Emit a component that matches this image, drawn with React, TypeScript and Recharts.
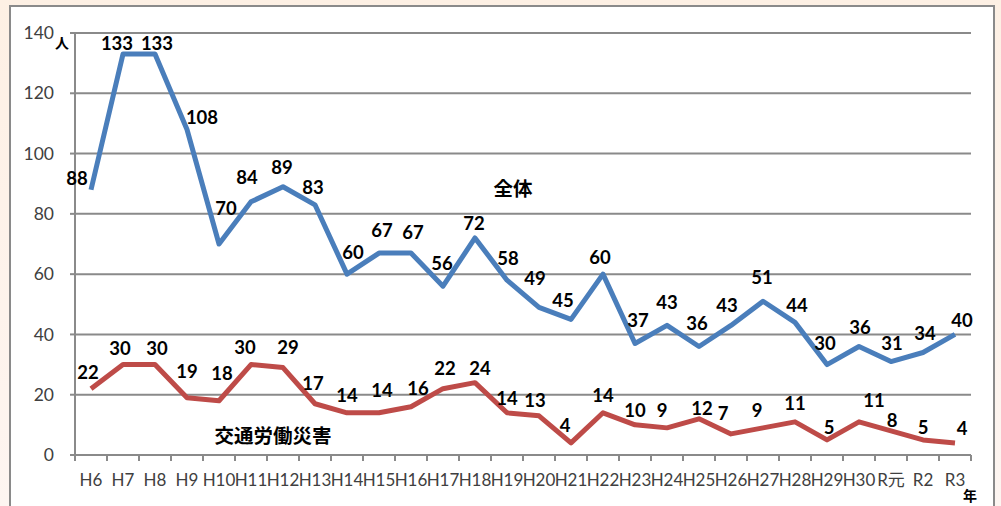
import React from "react";
import { CartesianGrid, LabelList, Line, LineChart, XAxis, YAxis } from "recharts";

const years = [
  "H6", "H7", "H8", "H9", "H10", "H11", "H12", "H13", "H14", "H15",
  "H16", "H17", "H18", "H19", "H20", "H21", "H22", "H23", "H24", "H25",
  "H26", "H27", "H28", "H29", "H30", "R元", "R2", "R3"
];
const totalDeaths = [
  88, 133, 133, 108, 70, 84, 89, 83, 60, 67,
  67, 56, 72, 58, 49, 45, 60, 37, 43, 36,
  43, 51, 44, 30, 36, 31, 34, 40
];
const trafficDeaths = [
  22, 30, 30, 19, 18, 30, 29, 17, 14, 14,
  16, 22, 24, 14, 13, 4, 14, 10, 9, 12,
  7, 9, 11, 5, 11, 8, 5, 4
];
const yTicks = [0, 20, 40, 60, 80, 100, 120, 140];

// label nudges (dx, dy from the point), Excel placed them a bit unevenly
const totalLabelShift = [
  [-14, -12], [-6, -11], [2, -11], [15, -12], [7, -36], [-4, -25], [-1, -20], [-2, -18],
  [6, -22], [3, -23], [2, -21], [-1, -23], [-1, -15], [1, -22], [-4, -29], [-8, -19],
  [-3, -17], [3, -23], [0, -23], [-2, -23], [-4, -20], [-1, -24], [2, -17], [-2, -22],
  [1, -19], [1, -19], [2, -20], [7, -14]
];
const trafficLabelShift = [
  [-3, -17], [-3, -17], [2, -17], [0, -27], [3, -28], [-6, -18], [5, -21], [-2, -21],
  [0, -18], [3, -23], [7, -19], [2, -21], [5, -15], [0, -15], [-4, -16], [-6, -18],
  [0, -18], [0, -15], [-5, -18], [3, -11], [-8, -21], [-6, -18], [0, -19], [2, -13],
  [15, -22], [1, -11], [0, -13], [7, -15]
];

const data = years.map((year, i) => ({
  year,
  total: totalDeaths[i],
  traffic: trafficDeaths[i]
}));

const FONT = "Lato, 'Noto Sans CJK JP', sans-serif";
const GRID = "#8a8a8a";

const makeLabel = (shift: number[][]) => (props: any) => {
  const { x, y, value, index } = props;
  const [dx, dy] = shift[index] || [0, -20];
  return (
    <text
      x={x + dx}
      y={y + dy}
      textAnchor="middle"
      dominantBaseline="central"
      fontFamily={FONT}
      fontWeight={700}
      fontSize={18.5}
      fill="#000"
    >
      {value}
    </text>
  );
};

const YearTick = (props: any) => {
  const { x, y, payload, index } = props;
  const half = 16;
  return (
    <g>
      <line x1={x - half} x2={x - half} y1={y} y2={y + 6} stroke={GRID} strokeWidth={2} />
      {index === years.length - 1 && (
        <line x1={x + half} x2={x + half} y1={y} y2={y + 6} stroke={GRID} strokeWidth={2} />
      )}
      <text
        x={x}
        y={y + 31}
        textAnchor="middle"
        fontFamily={FONT}
        fontSize={17}
        fill="#404040"
      >
        {payload.value}
      </text>
    </g>
  );
};

export default function App() {
  return (
    <div
      style={{
        position: "absolute",
        left: 0,
        top: 0,
        width: 1001,
        height: 506,
        overflow: "hidden",
        background: "linear-gradient(#fdf0e4, #fdf5f1)"
      }}
    >
      <div
        style={{
          position: "absolute",
          left: 9,
          top: 5,
          width: 982,
          height: 520,
          background: "#fff",
          border: "2px solid #8a8a8a"
        }}
      />
      <div style={{ position: "absolute", left: 0, top: 0 }}>
        <LineChart
          width={1001}
          height={506}
          data={data}
          margin={{ top: 33, right: 30, bottom: 11, left: 15 }}
        >
          <CartesianGrid vertical={false} stroke={GRID} strokeWidth={2} />
          <XAxis
            dataKey="year"
            height={40}
            padding={{ left: 16, right: 16 }}
            interval={0}
            tickLine={false}
            tickSize={0}
            tickMargin={0}
            axisLine={{ stroke: GRID, strokeWidth: 2 }}
            tick={<YearTick />}
          />
          <YAxis
            width={60}
            domain={[0, 140]}
            ticks={yTicks}
            interval={0}
            tickSize={5}
            tickMargin={16}
            axisLine={{ stroke: GRID, strokeWidth: 2 }}
            tickLine={{ stroke: GRID, strokeWidth: 2 }}
            tick={{ fontFamily: FONT, fontSize: 17.5, fill: "#404040" }}
          />
          <Line
            dataKey="total"
            stroke="#4a7ebb"
            strokeWidth={5}
            dot={false}
            strokeLinejoin="round"
            isAnimationActive={false}
          >
            <LabelList dataKey="total" content={makeLabel(totalLabelShift)} />
          </Line>
          <Line
            dataKey="traffic"
            stroke="#be4b48"
            strokeWidth={5}
            dot={false}
            strokeLinejoin="round"
            isAnimationActive={false}
          >
            <LabelList dataKey="traffic" content={makeLabel(trafficLabelShift)} />
          </Line>
          <text x={62} y={42} textAnchor="middle" dominantBaseline="central" fontFamily={FONT} fontWeight={700} fontSize={14}>
            人
          </text>
          <text x={970} y={495} textAnchor="middle" dominantBaseline="central" fontFamily={FONT} fontWeight={700} fontSize={14}>
            年
          </text>
          <text x={513} y={188} textAnchor="middle" dominantBaseline="central" fontFamily={FONT} fontWeight={700} fontSize={19.5}>
            全体
          </text>
          <text x={273} y={435} textAnchor="middle" dominantBaseline="central" fontFamily={FONT} fontWeight={700} fontSize={19.5}>
            交通労働災害
          </text>
        </LineChart>
      </div>
    </div>
  );
}
